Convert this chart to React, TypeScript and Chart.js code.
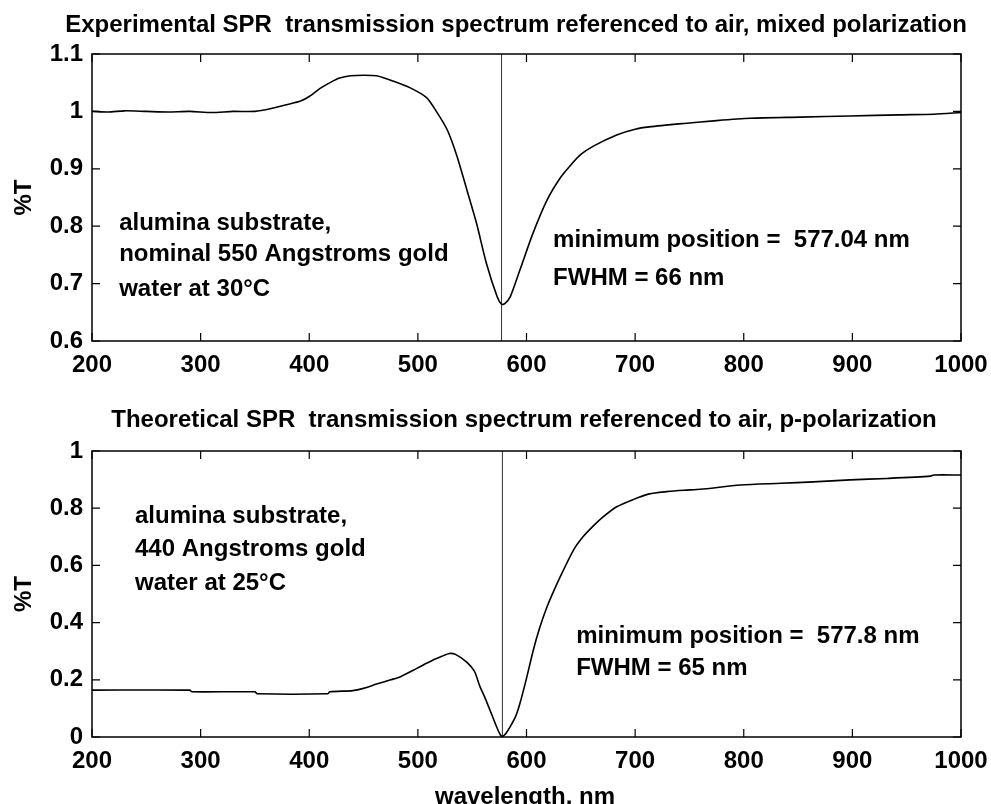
import React, { useEffect, useRef } from "react";
import { Chart, registerables } from "chart.js";

Chart.register(...registerables);

const FONT = '"Liberation Sans", Arial, Helvetica, sans-serif';

// ---------- data ----------
const xTicks = [200, 300, 400, 500, 600, 700, 800, 900, 1000];
const topYTicks = [0.6, 0.7, 0.8, 0.9, 1.0, 1.1];
const bottomYTicks = [0, 0.2, 0.4, 0.6, 0.8, 1];

const topWavelengths = [
  200, 215, 230, 250, 270, 290, 310, 330, 350, 365, 380, 392, 400, 410, 420, 428, 438, 450, 462, 477,
  493, 508, 517, 527, 536, 545, 554, 563, 573, 577, 580, 585, 594, 606, 619, 631, 640, 650, 662, 683,
  700, 713, 745, 775, 806, 852, 898, 944, 975, 1000,
];
const topT = [
  1.0, 0.999, 1.001, 1.0, 0.999, 1.0, 0.998, 1.0, 1.0, 1.005, 1.012, 1.018, 1.026, 1.04, 1.051, 1.058,
  1.062, 1.063, 1.062, 1.053, 1.041, 1.024, 1.0, 0.968, 0.922, 0.864, 0.805, 0.736, 0.677, 0.664, 0.665,
  0.677, 0.724, 0.788, 0.846, 0.884, 0.905, 0.925, 0.94, 0.959, 0.969, 0.973, 0.979, 0.984, 0.988, 0.99,
  0.992, 0.994, 0.995, 0.998,
];

const bottomWavelengths = [
  200, 290, 292, 350, 352, 417, 419, 440, 450, 462, 475, 484, 499, 514, 522, 529, 535, 545, 552, 557,
  562, 567, 572, 576, 578, 581, 585, 590, 594, 600, 606, 612, 619, 625, 631, 643, 652, 662, 670, 683,
  698, 713, 729, 745, 760, 797, 834, 864, 898, 932, 972, 975, 1000,
];
const bottomT = [
  0.164, 0.164, 0.158, 0.158, 0.151, 0.151, 0.158, 0.162, 0.17, 0.185, 0.2, 0.211, 0.24, 0.269, 0.282,
  0.292, 0.288, 0.262, 0.23, 0.178, 0.135, 0.088, 0.04, 0.007, 0.002, 0.012, 0.036, 0.072, 0.118, 0.205,
  0.3, 0.38, 0.456, 0.51, 0.56, 0.652, 0.7, 0.74, 0.768, 0.805, 0.83, 0.85, 0.858, 0.863, 0.866, 0.881,
  0.887, 0.892, 0.899, 0.904, 0.912, 0.916, 0.916,
];

const topMinimum = 577.04;
const bottomMinimum = 577.8;

const topTitle = "Experimental SPR  transmission spectrum referenced to air, mixed polarization";
const bottomTitle = "Theoretical SPR  transmission spectrum referenced to air, p-polarization";
const yLabel = "%T";
const xLabel = "wavelength, nm";
const topNotesLeft = ["alumina substrate,", "nominal 550 Angstroms gold", "water at 30\u00B0C"];
const topNotesRight = ["minimum position =  577.04 nm", "FWHM = 66 nm"];
const bottomNotesLeft = ["alumina substrate,", "440 Angstroms gold", "water at 25\u00B0C"];
const bottomNotesRight = ["minimum position =  577.8 nm", "FWHM = 65 nm"];

// ---------- drawing helpers ----------
const framePlugin = {
  id: "frame",
  afterDraw(chart: any, _args: any, opts: any) {
    const { ctx, chartArea: a, scales } = chart;
    ctx.save();
    ctx.strokeStyle = "#000";
    ctx.lineWidth = 1.5;
    ctx.strokeRect(a.left, a.top, a.right - a.left, a.bottom - a.top);
    const tl = 8;
    ctx.lineWidth = 1.2;
    ctx.beginPath();
    for (const t of scales.x.ticks) {
      const px = scales.x.getPixelForValue(t.value);
      ctx.moveTo(px, a.bottom);
      ctx.lineTo(px, a.bottom - tl);
      ctx.moveTo(px, a.top);
      ctx.lineTo(px, a.top + tl);
    }
    for (const t of scales.y.ticks) {
      const py = scales.y.getPixelForValue(t.value);
      ctx.moveTo(a.left, py);
      ctx.lineTo(a.left + tl, py);
      ctx.moveTo(a.right, py);
      ctx.lineTo(a.right - tl, py);
    }
    ctx.stroke();

    ctx.fillStyle = "#000";
    ctx.font = `bold 24px ${FONT}`;
    ctx.textAlign = "center";
    ctx.textBaseline = "alphabetic";
    ctx.fillText(opts.title, opts.titleX, a.top + opts.titleDy);

    ctx.save();
    ctx.translate(opts.yLabelX, (a.top + a.bottom) / 2);
    ctx.rotate(-Math.PI / 2);
    ctx.font = `bold 24px ${FONT}`;
    ctx.textBaseline = "middle";
    ctx.fillText(yLabel, 0, 0);
    ctx.restore();

    ctx.font = `bold 24px ${FONT}`;
    ctx.textAlign = "left";
    ctx.textBaseline = "alphabetic";
    for (const n of opts.notes) {
      const x = scales.x.getPixelForValue(n.x);
      n.lines.forEach((line: string, i: number) => {
        ctx.fillText(line, x, scales.y.getPixelForValue(n.y[i]));
      });
    }

    if (opts.xLabel) {
      ctx.textAlign = "center";
      ctx.fillText(opts.xLabel, opts.xLabelX, chart.height - opts.xLabelBottom);
    }
    ctx.restore();
  },
};

function makeConfig(p: {
  xs: number[];
  ys: number[];
  minimum: number;
  yMin: number;
  yMax: number;
  yTicks: number[];
  padTop: number;
  padBottom: number;
  frame: any;
}) {
  const curve = p.xs.map((x, i) => ({ x, y: p.ys[i] }));
  return {
    type: "line" as const,
    data: {
      datasets: [
        {
          data: curve,
          borderColor: "#000",
          borderWidth: 1.6,
          pointRadius: 0,
          tension: 0.25,
          fill: false,
        },
        {
          data: [
            { x: p.minimum, y: p.yMin },
            { x: p.minimum, y: p.yMax },
          ],
          borderColor: "#333",
          borderWidth: 1,
          pointRadius: 0,
          fill: false,
        },
      ],
    },
    options: {
      responsive: false,
      animation: false as const,
      layout: { padding: { left: 0, right: 30, top: p.padTop, bottom: p.padBottom } },
      plugins: {
        legend: { display: false },
        tooltip: { enabled: false },
        title: { display: false },
        frame: p.frame,
      },
      scales: {
        x: {
          type: "linear" as const,
          min: 200,
          max: 1000,
          afterBuildTicks: (s: any) => {
            s.ticks = xTicks.map((v) => ({ value: v }));
          },
          afterFit: (s: any) => {
            s.height = 50;
          },
          grid: { display: false, drawTicks: false },
          border: { display: false },
          ticks: {
            color: "#000",
            padding: 0,
            maxRotation: 0,
            autoSkip: false,
            font: { family: FONT, size: 24, weight: "bold" as const, lineHeight: 2.0 },
            callback: (v: any) => String(v),
          },
        },
        y: {
          type: "linear" as const,
          min: p.yMin,
          max: p.yMax,
          afterBuildTicks: (s: any) => {
            s.ticks = p.yTicks.map((v) => ({ value: v }));
          },
          afterFit: (s: any) => {
            s.width = 92;
          },
          grid: { display: false, drawTicks: false },
          border: { display: false },
          ticks: {
            color: "#000",
            padding: 9,
            autoSkip: false,
            font: { family: FONT, size: 24, weight: "bold" as const, lineHeight: 1.2 },
            callback: (v: any) => String(Math.round(Number(v) * 10) / 10),
          },
        },
      },
    },
    plugins: [framePlugin],
  };
}

export default function App() {
  const topRef = useRef<HTMLCanvasElement | null>(null);
  const bottomRef = useRef<HTMLCanvasElement | null>(null);

  useEffect(() => {
    const top = new Chart(
      topRef.current as HTMLCanvasElement,
      makeConfig({
        xs: topWavelengths,
        ys: topT,
        minimum: topMinimum,
        yMin: 0.6,
        yMax: 1.1,
        yTicks: topYTicks,
        padTop: 54,
        padBottom: 7,
        frame: {
          title: topTitle,
          titleX: 516,
          titleDy: -22,
          yLabelX: 24,
          notes: [
            { x: 225, y: [0.794, 0.74, 0.679], lines: topNotesLeft },
            { x: 624.5, y: [0.7635, 0.6977], lines: topNotesRight },
          ],
        },
      }) as any
    );
    const bottom = new Chart(
      bottomRef.current as HTMLCanvasElement,
      makeConfig({
        xs: bottomWavelengths,
        ys: bottomT,
        minimum: bottomMinimum,
        yMin: 0,
        yMax: 1,
        yTicks: bottomYTicks,
        padTop: 53,
        padBottom: 17,
        frame: {
          title: bottomTitle,
          titleX: 524,
          titleDy: -24,
          yLabelX: 24,
          notes: [
            { x: 239.6, y: [0.748, 0.633, 0.514], lines: bottomNotesLeft },
            { x: 645.7, y: [0.329, 0.217], lines: bottomNotesRight },
          ],
          xLabel: xLabel,
          xLabelX: 525,
          xLabelBottom: 0,
        },
      }) as any
    );
    return () => {
      top.destroy();
      bottom.destroy();
    };
  }, []);

  return (
    <div style={{ position: "absolute", left: 0, top: 0, width: 991, height: 804, background: "#fff" }}>
      <canvas ref={topRef} width={991} height={398} style={{ position: "absolute", left: 0, top: 0 }} />
      <canvas ref={bottomRef} width={991} height={406} style={{ position: "absolute", left: 0, top: 398 }} />
    </div>
  );
}
